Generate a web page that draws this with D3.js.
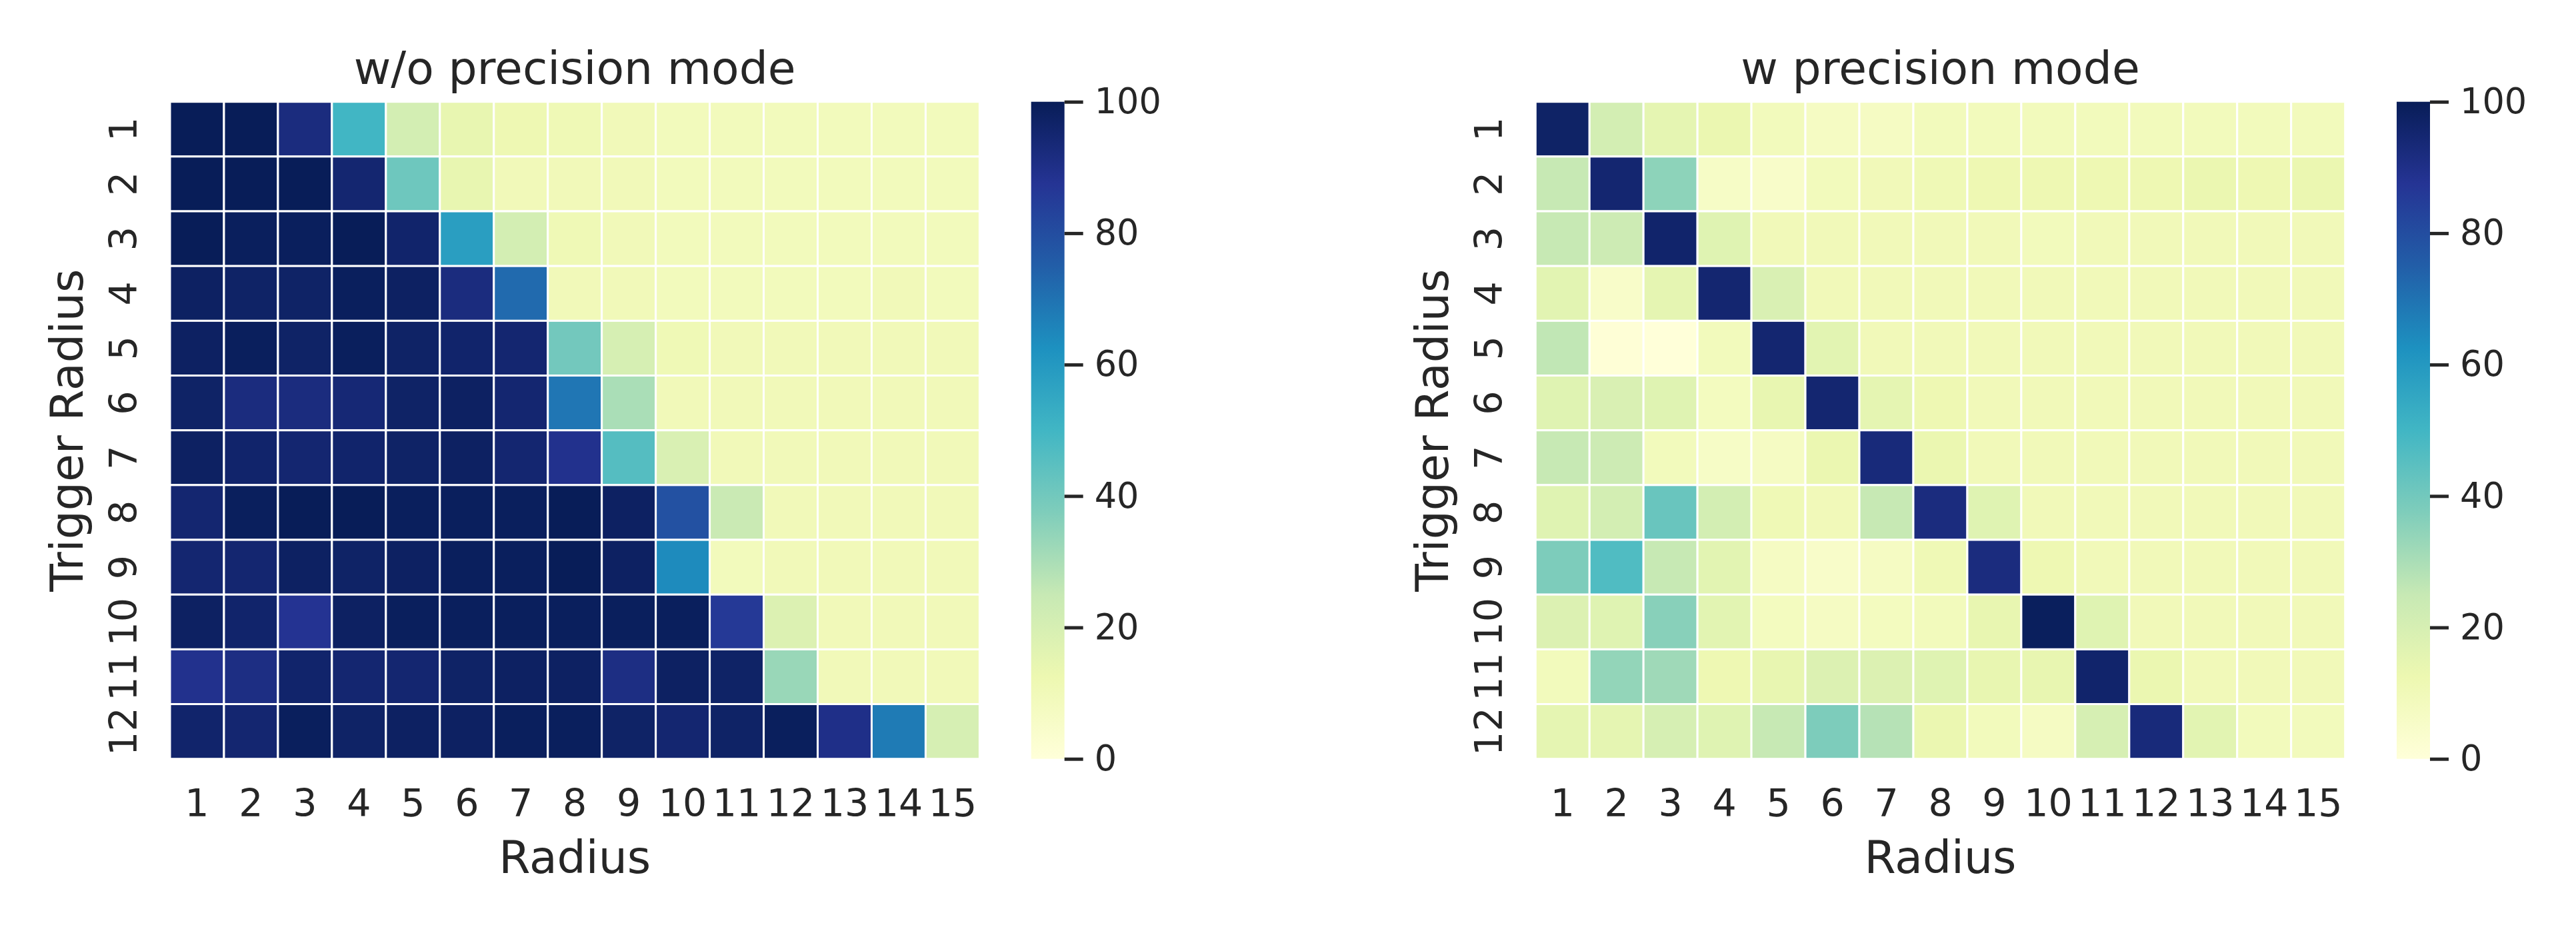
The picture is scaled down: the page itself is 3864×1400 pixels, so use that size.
<!DOCTYPE html>
<html>
<head>
<meta charset="utf-8">
<script src="https://cdn.jsdelivr.net/npm/d3@7"></script>
<style>
  body { margin: 0; background: #fff; }
  svg { display: block; font-family: 'DejaVu Sans', sans-serif; }
</style>
</head>
<body>
<script>
// data
const radius = [1, 2, 3, 4, 5, 6, 7, 8, 9, 10, 11, 12, 13, 14, 15];
const triggerRadius = [1, 2, 3, 4, 5, 6, 7, 8, 9, 10, 11, 12];
const colorTicks = [0, 20, 40, 60, 80, 100];

// rows = trigger radius, cols = radius
const withoutPrecision = [
  [100, 100, 92, 50, 21, 14, 12, 11, 10, 9, 9, 9, 9, 9, 9],
  [100, 100, 100, 95, 41, 14, 10, 10, 10, 9, 9, 9, 9, 9, 9],
  [100, 99, 99, 100, 96, 58, 21, 11, 10, 9, 9, 9, 9, 9, 9],
  [98, 97, 97, 99, 98, 92, 72, 10, 10, 9, 9, 9, 9, 10, 9],
  [98, 99, 97, 99, 97, 96, 95, 40, 20, 11, 10, 10, 10, 10, 10],
  [97, 92, 92, 94, 97, 98, 95, 69, 30, 10, 10, 10, 10, 10, 10],
  [98, 96, 95, 96, 97, 98, 95, 89, 46, 19, 10, 10, 10, 10, 10],
  [95, 99, 100, 100, 99, 99, 99, 100, 98, 79, 24, 10, 10, 10, 10],
  [95, 95, 98, 97, 98, 99, 99, 100, 98, 64, 9, 10, 10, 10, 10],
  [98, 96, 88, 98, 99, 99, 99, 99, 99, 99, 86, 18, 10, 10, 10],
  [89, 91, 96, 95, 95, 97, 98, 98, 91, 98, 97, 33, 10, 10, 10],
  [96, 95, 99, 97, 98, 98, 99, 99, 97, 95, 97, 99, 90, 68, 20],
];

const withPrecision = [
  [97, 21, 15, 13, 9, 7, 7, 9, 9, 9, 9, 9, 9, 9, 9],
  [25, 95, 35, 6, 5, 9, 10, 11, 12, 12, 12, 12, 13, 12, 13],
  [25, 23, 96, 17, 10, 10, 10, 10, 10, 9, 10, 10, 10, 10, 10],
  [16, 5, 15, 95, 19, 10, 10, 10, 10, 10, 10, 10, 10, 10, 10],
  [26, 1, 0, 9, 95, 16, 10, 10, 10, 10, 10, 10, 10, 10, 10],
  [17, 19, 17, 8, 14, 95, 15, 12, 10, 10, 10, 10, 10, 10, 10],
  [25, 23, 9, 6, 7, 13, 93, 13, 10, 10, 10, 10, 10, 10, 10],
  [17, 21, 42, 21, 11, 10, 25, 92, 17, 10, 10, 10, 10, 10, 10],
  [38, 47, 25, 16, 7, 5, 7, 11, 92, 12, 10, 10, 10, 10, 10],
  [18, 17, 36, 16, 8, 7, 8, 9, 14, 99, 17, 10, 10, 10, 10],
  [9, 34, 32, 12, 14, 18, 18, 17, 14, 14, 96, 13, 10, 10, 10],
  [15, 15, 20, 17, 25, 38, 28, 13, 9, 7, 20, 93, 16, 9, 9],
];

// YlGnBu (matplotlib)
const ylgnbu = ['#ffffd9', '#edf8b1', '#c7e9b4', '#7fcdbb', '#41b6c4',
  '#1d91c0', '#225ea8', '#253494', '#081d58'];

const panels = [
  { title: 'w/o precision mode', values: withoutPrecision, left: 255 },
  { title: 'w precision mode', values: withPrecision, left: 2303.3 },
];

const textColor = '#262626';
const mapTop = 152.7;
const mapWidth = 1214.4;
const mapHeight = 986;
const cbGap = 77.3;
const cbWidth = 50;

const color = d3.scaleLinear()
  .domain(ylgnbu.map((c, i) => (i * 100) / (ylgnbu.length - 1)))
  .range(ylgnbu)
  .clamp(true);

const svg = d3.select('body')
  .append('svg')
  .attr('width', 3864)
  .attr('height', 1400);

const defs = svg.append('defs');

panels.forEach((p, pi) => {
  const g = svg.append('g').attr('transform', `translate(${p.left}, ${mapTop})`);

  const x = d3.scaleBand().domain(radius).range([0, mapWidth]);
  const y = d3.scaleBand().domain(triggerRadius).range([0, mapHeight]);

  //cells
  const cells = [];
  p.values.forEach((row, ri) => {
    row.forEach((v, ci) => {
      cells.push({ r: triggerRadius[ri], c: radius[ci], v: v });
    });
  });

  g.selectAll('rect.cell')
    .data(cells)
    .enter()
    .append('rect')
    .attr('class', 'cell')
    .attr('x', (d) => x(d.c))
    .attr('y', (d) => y(d.r))
    .attr('width', x.bandwidth())
    .attr('height', y.bandwidth())
    .attr('fill', (d) => color(d.v))
    .attr('stroke', '#fff')
    .attr('stroke-width', 3);

  //x axis
  const xAxisGroup = g.append('g')
    .attr('transform', `translate(0, ${mapHeight})`)
    .call(d3.axisBottom(x).tickSize(0).tickPadding(46));
  xAxisGroup.select('.domain').remove();
  xAxisGroup.selectAll('text')
    .attr('fill', textColor)
    .style('font-size', '57px')
    .style('font-family', 'DejaVu Sans');

  //y axis, labels rotated
  const yAxisGroup = g.append('g')
    .call(d3.axisLeft(y).tickSize(0));
  yAxisGroup.select('.domain').remove();
  yAxisGroup.selectAll('text')
    .attr('x', 0)
    .attr('y', 0)
    .attr('dy', null)
    .attr('text-anchor', 'middle')
    .attr('transform', 'translate(-50, 0) rotate(-90)')
    .attr('fill', textColor)
    .style('font-size', '57px')
    .style('font-family', 'DejaVu Sans');

  //title and labels
  g.append('text')
    .attr('x', mapWidth / 2)
    .attr('y', 126 - mapTop)
    .attr('text-anchor', 'middle')
    .attr('fill', textColor)
    .style('font-size', '68px')
    .text(p.title);

  g.append('text')
    .attr('x', mapWidth / 2)
    .attr('y', 1310 - mapTop)
    .attr('text-anchor', 'middle')
    .attr('fill', textColor)
    .style('font-size', '68px')
    .text('Radius');

  g.append('text')
    .attr('transform', `translate(-131, ${mapHeight / 2}) rotate(-90)`)
    .attr('text-anchor', 'middle')
    .attr('fill', textColor)
    .style('font-size', '68px')
    .text('Trigger Radius');

  //colorbar
  const gradId = `cb-grad-${pi}`;
  const grad = defs.append('linearGradient')
    .attr('id', gradId)
    .attr('x1', 0).attr('y1', 1)
    .attr('x2', 0).attr('y2', 0);
  grad.selectAll('stop')
    .data(ylgnbu)
    .enter()
    .append('stop')
    .attr('offset', (d, i) => i / (ylgnbu.length - 1))
    .attr('stop-color', (d) => d);

  const cb = g.append('g')
    .attr('transform', `translate(${mapWidth + cbGap}, 0)`);

  cb.append('rect')
    .attr('width', cbWidth)
    .attr('height', mapHeight)
    .attr('fill', `url(#${gradId})`);

  const cy = d3.scaleLinear().domain([0, 100]).range([mapHeight, 0]);
  const cbAxis = cb.append('g')
    .attr('transform', `translate(${cbWidth}, 0)`)
    .call(d3.axisRight(cy).tickValues(colorTicks).tickSize(28).tickPadding(17));
  cbAxis.select('.domain').remove();
  cbAxis.selectAll('line')
    .attr('stroke', textColor)
    .attr('stroke-width', 5);
  cbAxis.selectAll('text')
    .attr('fill', textColor)
    .style('font-size', '52.5px')
    .style('font-family', 'DejaVu Sans');
});
</script>
</body>
</html>
